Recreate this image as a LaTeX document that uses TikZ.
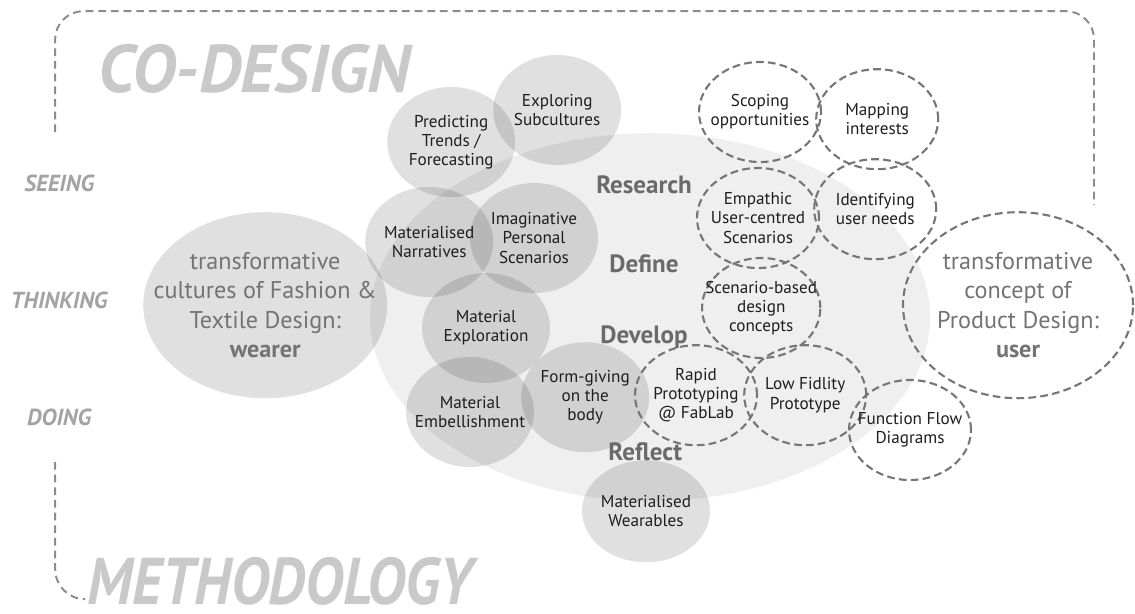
\documentclass[tikz,border=0pt]{standalone}
\usepackage{fontspec}
\setmainfont{PT Sans}
\newfontfamily\narrowfont[FakeStretch=0.89]{PT Sans}
\usetikzlibrary{shapes.geometric}

\definecolor{bgfill}{HTML}{EFEFEF}
\definecolor{txt}{HTML}{1E1E1E}
\definecolor{ringc}{HTML}{767676}
\definecolor{framec}{HTML}{8C8C8C}
\definecolor{stagec}{HTML}{6A6A6A}
\definecolor{bigc}{HTML}{737373}
\definecolor{sidec}{HTML}{A3A3A3}
\definecolor{titlec}{HTML}{C9C9C9}

\begin{document}
\begin{tikzpicture}[
  every node/.style={font=\fontsize{12.2}{13.6}\selectfont, text=txt},
  blob/.style={ellipse, fill=black, fill opacity=0.12, text opacity=1, align=center, inner sep=-10pt, minimum width=3.2cm, minimum height=2.75cm},
  ring/.style={ellipse, draw=ringc, line width=1.5pt, dash pattern=on 5.5pt off 3pt, align=center, inner sep=-10pt, minimum width=3.05cm, minimum height=2.5cm},
  big/.style={font=\fontsize{17.2}{20.8}\selectfont, text=bigc, inner sep=-0.8cm},
  stage/.style={font=\fontsize{17.8}{20}\selectfont\bfseries, text=stagec},
  side/.style={font=\fontsize{16.5}{18}\selectfont\bfseries\itshape, text=sidec},
  title/.style={font=\fontsize{48}{50}\selectfont\bfseries\itshape, text=titlec, anchor=base west, inner sep=0pt, text depth=0pt}
]
\useasboundingbox (0,0) rectangle (28.375,-15.325);

% dashed frame
\draw[framec, line width=1.4pt, dash pattern=on 5.5pt off 3.5pt, rounded corners=0.7cm]
  (1.38,-3.3) -- (1.38,-0.28) -- (27.35,-0.28) -- (27.35,-5.13);
\draw[framec, line width=1.4pt, dash pattern=on 5.5pt off 3.5pt, rounded corners=0.75cm]
  (1.38,-11.55) -- (1.38,-14.98) -- (2.13,-14.98);

\node[title] (codes) at (2.45,-2.3) {CO-DESIGN};
\node[title, font=\narrowfont\fontsize{47}{50}\selectfont\bfseries\itshape] (meth) at (2.18,-15.1) {METHODOLOGY};

\node[side] (see) at (1.48,-4.58) {SEEING};
\node[side] (thi) at (1.48,-7.5) {THINKING};
\node[side] (doi) at (1.48,-10.43) {DOING};

% process area
\node[ellipse, fill=bgfill, minimum width=14cm, minimum height=9.2cm] (bg) at (16.25,-7.93) {};

% fashion side
\node[blob, big, minimum width=6.1cm, minimum height=4.65cm] (fash) at (6.63,-7.63)
  {transformative\\cultures of Fashion \&\\Textile Design:\\\textbf{wearer}};
\node[blob] (pred) at (11.28,-3.55) {Predicting\\Trends /\\Forecasting};
\node[blob] (subc) at (13.93,-2.75) {Exploring\\Subcultures};
\node[blob] (narr) at (10.73,-6.05) {Materialised\\Narratives};
\node[blob] (imag) at (13.35,-5.95) {Imaginative\\Personal\\Scenarios};
\node[blob] (mexp) at (12.15,-8.2) {Material\\Exploration};
\node[blob] (memb) at (11.75,-10.3) {Material\\Embellishment};
\node[blob] (form) at (14.63,-9.93) {Form-giving\\on the\\body};
\node[blob, minimum height=2.55cm] (wear) at (16.15,-12.78) {Materialised\\Wearables};

% product side
\node[ring] (scop) at (19.0,-2.8) {Scoping\\opportunities};
\node[ring] (mapp) at (21.93,-2.98) {Mapping\\interests};
\node[ring] (empa) at (18.95,-5.45) {Empathic\\User-centred\\Scenarios};
\node[ring] (iden) at (21.88,-5.23) {Identifying\\user needs};
\node[ring, minimum width=2.95cm] (scen) at (19.03,-7.7) {Scenario-based\\design\\concepts};
\node[ring] (rapi) at (17.4,-9.88) {Rapid\\Prototyping\\@ FabLab};
\node[ring] (lowf) at (20.13,-9.88) {Low Fidlity\\Prototype};
\node[ring] (func) at (22.75,-10.75) {Function Flow\\Diagrams};
\node[ring, big, minimum width=5.75cm, minimum height=4.65cm] (prod) at (25.45,-7.63)
  {transformative\\concept of\\Product Design:\\\textbf{user}};

% stages
\node[stage] (res) at (16.1,-4.63) {Research};
\node[stage] (def) at (16.1,-6.6) {Define};
\node[stage] (dev) at (16.1,-8.43) {Develop};
\node[stage] (ref) at (16.13,-11.3) {Reflect};
\end{tikzpicture}
\end{document}
